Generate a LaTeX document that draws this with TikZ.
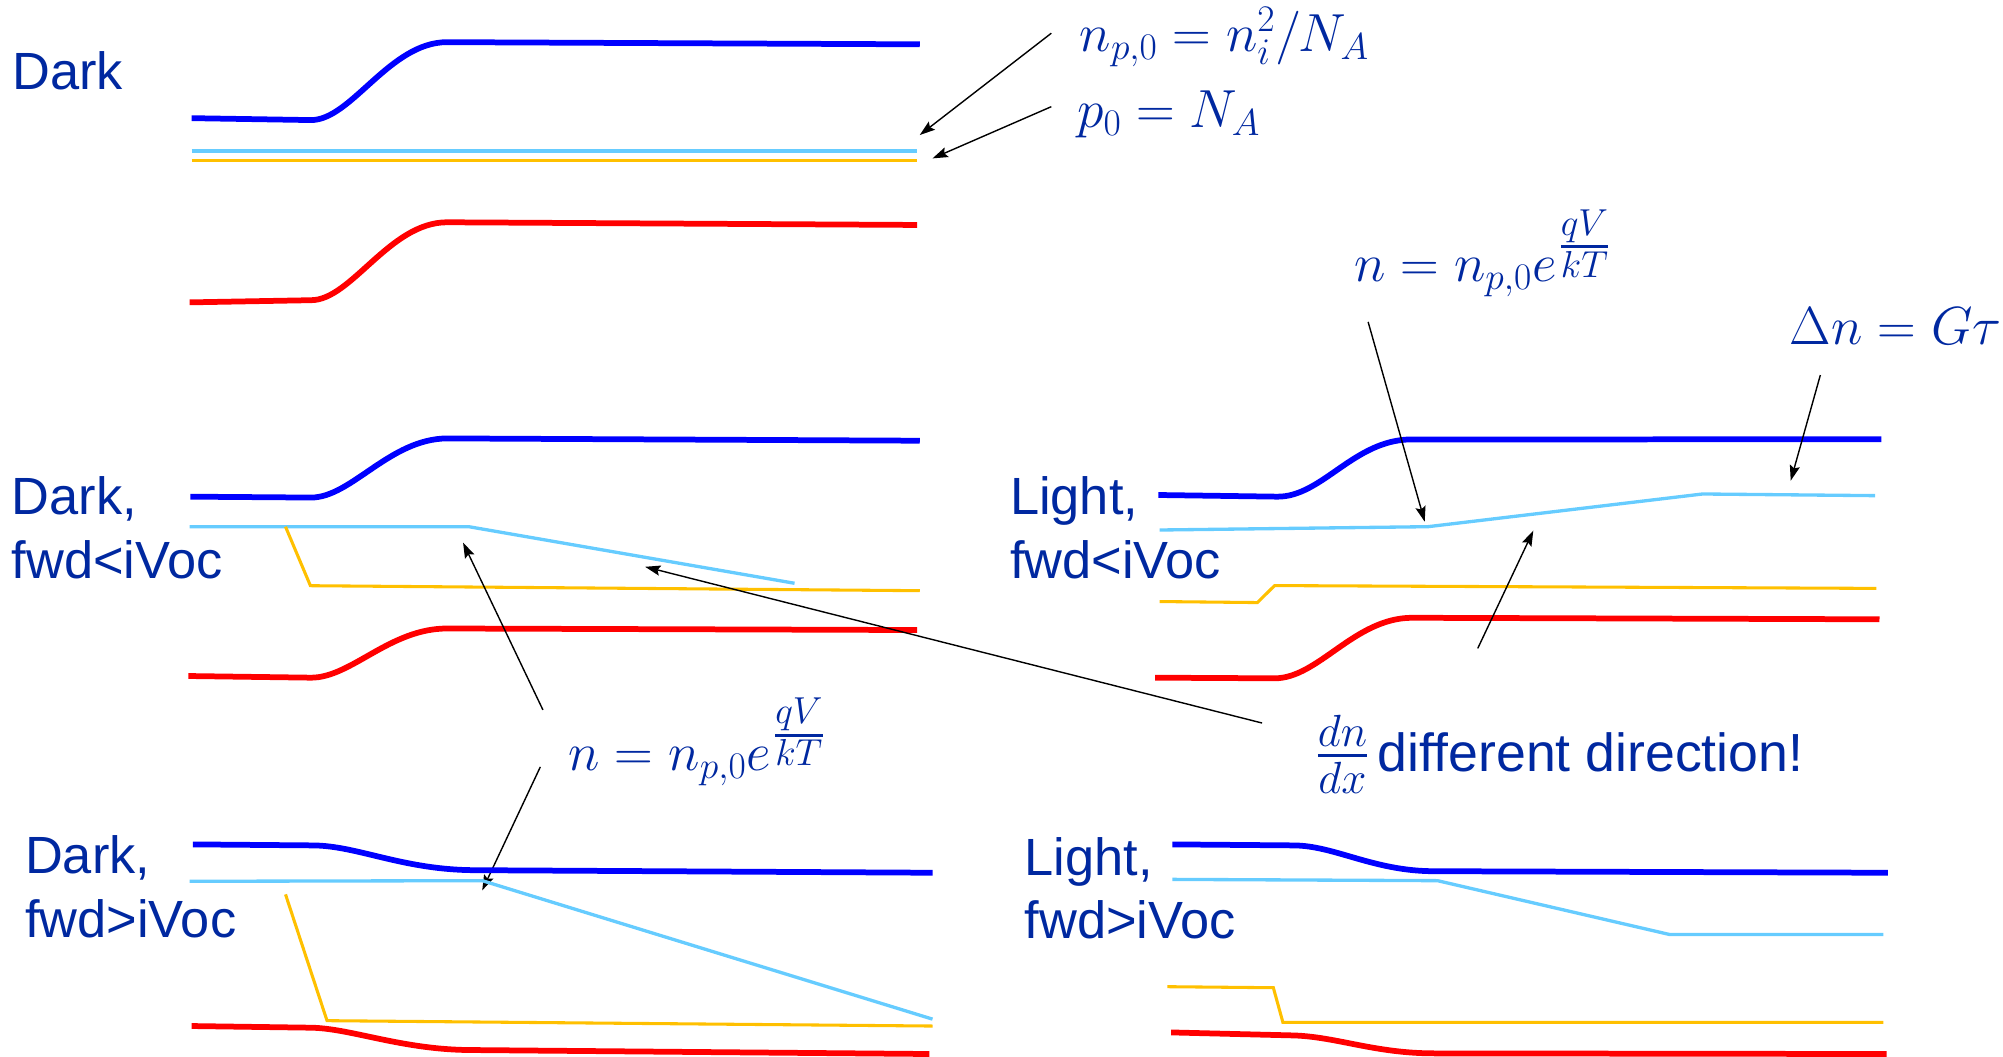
\RequirePackage{fix-cm}
\documentclass[tikz,border=0pt]{standalone}
\usepackage[no-math]{fontspec}
\usepackage{graphicx}
\setmainfont{Liberation Sans}
\usetikzlibrary{arrows.meta}
\definecolor{txtblue}{RGB}{0,40,160}
\definecolor{cbblue}{RGB}{0,0,255}
\definecolor{nlblue}{RGB}{102,204,255}
\definecolor{fermi}{RGB}{255,192,0}
\definecolor{vbred}{RGB}{255,0,0}
\newcommand{\qvkt}{e\mkern1mu\raisebox{20pt}{$\scriptstyle{\scriptstyle qV\above 2.2pt\scriptstyle kT}$}}
\tikzset{
  cband/.style={draw=cbblue, line width=4.5pt},
  vband/.style={draw=vbred, line width=4.5pt},
  nline/.style={draw=nlblue, line width=2.6pt},
  fline/.style={draw=fermi, line width=2.4pt},
  ann/.style={draw=black, line width=1.1pt, -{Stealth[length=12pt,width=8pt,inset=2pt]}},
  lbl/.style={text=txtblue, font=\fontsize{41}{50}\selectfont, inner sep=0pt, align=left, anchor=base west},
  eqn/.style={text=txtblue, font=\fontsize{42}{50}\selectfont, inner sep=0pt, anchor=base west}
}
\begin{document}
\begin{tikzpicture}[x=1pt,y=-1pt]
\useasboundingbox (0,0) rectangle (1568,827);

% ---------- Panel 1: Dark ----------
\node[lbl] (tDark) at (9.5,70) {Dark};
\draw[cband] (150,92.5) -- (243.5,94) .. controls (275,94) and (305,33) .. (350,33) -- (720,34.7);
\draw[nline] (150,118.2) -- (718,118.2);
\draw[fline] (150,125.3) -- (718,125.3);
\draw[vband] (148.5,236.7) -- (243.5,235) .. controls (275,235) and (305,174) .. (350,174) -- (718,176.1);

\node[eqn] (eqA) at (845,40) {$n_{p,0}=n_i^2/N_A$};
\node[eqn] (eqB) at (843,100) {$p_0=N_A$};
\coordinate (a1s) at (823,26);
\coordinate (a1e) at (720,105.7);
\coordinate (a2s) at (823,83.5);
\coordinate (a2e) at (730,124);
\draw[ann] (a1s) -- (a1e);
\draw[ann] (a2s) -- (a2e);

% ---------- Panel 2: Dark, fwd<iVoc ----------
\node[lbl] (tDarkA) at (9,452.7) {Dark,\\fwd<iVoc};
\draw[cband] (149,388.8) -- (243.5,389.5) .. controls (275,389.5) and (305,343.5) .. (350,343.2) -- (720,345);
\draw[nline] (148.5,412.3) -- (367,412.3) -- (622,456.6);
\draw[fline] (223.5,412.3) -- (243,458.5) -- (720,462.4);
\draw[vband] (147.5,529.2) -- (243.5,530.5) .. controls (275,530.5) and (305,492) .. (350,492) -- (718,493.2);

\node[eqn] (eqE) at (445,602.8) {$n=n_{p,0}\qvkt$};
\coordinate (a3s) at (425,555.7);
\coordinate (a3e) at (362.5,424.8);
\coordinate (a5s) at (423,600.3);
\coordinate (a5e) at (377.5,697);
\draw[ann] (a3s) -- (a3e);
\draw[ann] (a5s) -- (a5e);

% ---------- Panel 3: Dark, fwd>iVoc ----------
\node[lbl] (tDarkB) at (19.5,733.5) {Dark,\\fwd>iVoc};
\draw[cband] (151,661) -- (245,661.8) .. controls (280,662) and (315,681) .. (372,681.2) -- (730,683.2);
\draw[nline] (148.5,689.9) -- (377.5,689.4) -- (730,797.8);
\draw[fline] (223.5,700.1) -- (256,799) -- (730,803.2);
\draw[vband] (150,803.2) -- (243.5,804.5) .. controls (275,805) and (315,822) .. (370,822) -- (727.5,825.1);

% ---------- Panel 4: Light, fwd<iVoc ----------
\node[lbl] (tLightA) at (790.5,452.7) {Light,\\fwd<iVoc};
\draw[cband] (906.8,387.5) -- (1000,388.8) .. controls (1035,389) and (1060,344) .. (1105,344) -- (1472.8,343.9);
\draw[nline] (907.8,414.9) -- (1117.8,412.3) -- (1332.8,386.7) -- (1467.8,388);
\draw[fline] (907.8,470.9) -- (984.3,471.7) -- (997.8,458.4) -- (1468.8,460.6);
\draw[vband] (904.3,530.5) -- (997.8,531) .. controls (1032,531) and (1060,484) .. (1105,483.6) -- (1471.3,484.8);

\node[eqn] (eqC) at (1060,220.5) {$n=n_{p,0}\qvkt$};
\node[eqn] (eqD) at (1401,270) {$\Delta n=G\tau$};
\node[eqn] (eqF) at (1030,604) {\scalebox{1.2}{${dn\above 1.6pt dx}$}\,different direction!};
\coordinate (a4s) at (988,566);
\coordinate (a4e) at (505,443.7);
\coordinate (a6s) at (1071,252);
\coordinate (a6e) at (1115.3,408.4);
\coordinate (a7s) at (1425,293.6);
\coordinate (a7e) at (1401.8,376.3);
\coordinate (a8s) at (1156.8,507.6);
\coordinate (a8e) at (1200.3,415.4);
\draw[ann] (a4s) -- (a4e);
\draw[ann] (a6s) -- (a6e);
\draw[ann] (a7s) -- (a7e);
\draw[ann] (a8s) -- (a8e);

% ---------- Panel 5: Light, fwd>iVoc ----------
\node[lbl] (tLightB) at (802,735) {Light,\\fwd>iVoc};
\draw[cband] (917.8,661) -- (1012.8,661.8) .. controls (1045,662) and (1075,682) .. (1122.8,682) -- (1477.8,683.2);
\draw[nline] (917.8,688.4) -- (1125.3,689.4) -- (1306.8,731.5) -- (1474.3,731.5);
\draw[fline] (913.8,772.4) -- (996.8,773.2) -- (1004.3,800.4) -- (1474.3,800.4);
\draw[vband] (916.8,808.2) -- (1010.3,810.5) .. controls (1045,811) and (1075,824.6) .. (1122.8,824.6) -- (1476.8,825.1);
\end{tikzpicture}
\end{document}
